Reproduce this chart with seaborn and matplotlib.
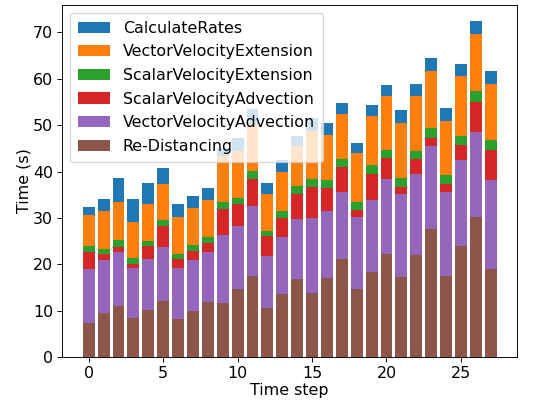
import numpy as np
import pandas as pd
import matplotlib
matplotlib.use('Agg')
import matplotlib.pyplot as plt
import seaborn as sns

# cumulative tops (bottom -> top of each stack)
steps = list(range(28))
top_redist = [7.3, 9.5, 11.0, 8.4, 10.1, 12.1, 8.2, 9.9, 11.8, 11.6,
              14.6, 17.4, 10.6, 13.6, 16.8, 13.8, 17.0, 21.1, 14.6, 18.3,
              22.2, 17.2, 22.0, 27.6, 17.4, 23.9, 30.2, 19.0]
top_vec_adv = [18.95, 20.9, 22.6, 19.2, 21.1, 23.7, 19.2, 20.9, 22.6, 26.3,
               28.2, 32.5, 21.8, 25.8, 29.7, 29.9, 31.4, 35.5, 30.2, 33.8,
               38.3, 35.1, 39.4, 45.4, 35.5, 42.4, 48.5, 38.1]
top_sca_adv = [22.6, 22.2, 23.7, 20.0, 23.9, 28.2, 21.1, 22.8, 24.6, 31.9,
               33.0, 38.3, 26.1, 29.9, 35.1, 36.6, 36.4, 40.9, 31.7, 39.4,
               42.9, 36.6, 42.6, 47.2, 37.3, 45.7, 54.9, 44.6]
top_sca_ext = [23.9, 23.3, 25.2, 21.3, 25.0, 29.5, 22.2, 24.1, 25.8, 33.4,
               34.2, 40.1, 27.1, 31.4, 36.8, 38.3, 38.1, 42.6, 33.4, 41.4,
               44.6, 38.5, 44.4, 49.3, 39.2, 47.6, 57.3, 46.7]
top_vec_ext = [30.6, 31.4, 33.4, 29.1, 33.0, 37.3, 30.2, 32.1, 33.8, 43.4,
               44.4, 50.2, 35.1, 39.8, 45.4, 48.7, 47.8, 52.3, 43.9, 51.9,
               56.2, 50.4, 56.2, 61.6, 50.8, 60.5, 69.6, 58.8]
top_calc = [32.3, 34.0, 38.5, 34.0, 37.5, 40.7, 32.9, 34.7, 36.4, 45.0,
            47.2, 53.4, 37.5, 42.4, 47.6, 51.5, 50.4, 54.7, 46.1, 54.3,
            58.6, 53.2, 58.8, 64.4, 53.6, 63.1, 72.4, 61.6]

labels = ['CalculateRates', 'VectorVelocityExtension', 'ScalarVelocityExtension',
          'ScalarVelocityAdvection', 'VectorVelocityAdvection', 'Re-Distancing']
colors = ['#1f77b4', '#ff7f0e', '#2ca02c', '#d62728', '#9467bd', '#8c564b']
tops = [top_calc, top_vec_ext, top_sca_ext, top_sca_adv, top_vec_adv, top_redist]

plt.rcParams['font.family'] = ['DejaVu Sans']
plt.rcParams['font.size'] = 13.6
plt.rcParams['xtick.major.size'] = 4
plt.rcParams['ytick.major.size'] = 4

fig, ax = plt.subplots(figsize=(6.4, 4.8), dpi=84.375)

# draw tallest layer first so lower layers cover it
for lab, col, top in zip(labels, colors, tops):
    df = pd.DataFrame({'step': steps, 'time': top})
    sns.barplot(data=df, x='step', y='time', color=col, saturation=1,
                width=0.8, linewidth=0, errorbar=None, label=lab, ax=ax)

ax.set_xticks([0, 5, 10, 15, 20, 25])
ax.set_xticklabels(['0', '5', '10', '15', '20', '25'])
ax.set_xlim(-1.79, 28.79)
ax.set_ylim(0, 75.9)
ax.set_xlabel('Time step', labelpad=2)
ax.set_ylabel('Time (s)', labelpad=1.5)
ax.legend(loc='upper left', fontsize=13.6, borderpad=0.5, labelspacing=0.54)

plt.subplots_adjust(left=0.115, right=0.958, top=0.988, bottom=0.118)
plt.savefig('out.png', dpi=84.375)
